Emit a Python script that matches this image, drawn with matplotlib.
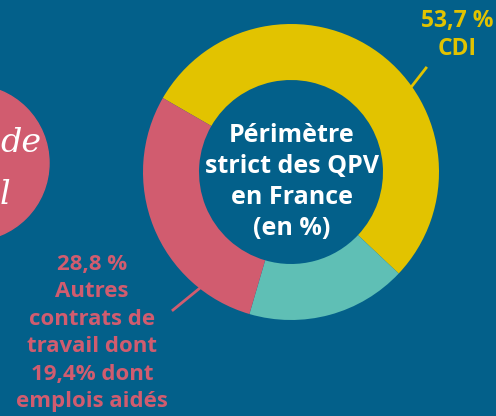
import matplotlib
matplotlib.use("Agg")
import matplotlib.pyplot as plt
from matplotlib.patches import Circle

# data
labels = ["CDI", "Autre", "Autres contrats"]
values = [53.7, 17.5, 28.8]
colors = ["#e2c300", "#5fbfb5", "#d15c6f"]

bg = "#03608a"
W, H = 496, 416

fig = plt.figure(figsize=(W / 100, H / 100), dpi=100)
fig.patch.set_facecolor(bg)
ax = fig.add_axes([0, 0, 1, 1])

def py(y):
    # pixel row (from top) to data y
    return H - y

# decorative pink disc on the left, cut by the edge
ax.add_patch(Circle((-29, py(163)), 78, color="#d15c6f", zorder=1))
ax.text(0, py(143), "de", color="white", fontsize=24, family="DejaVu Serif",
        style="italic", ha="left", va="center", zorder=2)
ax.text(0, py(195), "l", color="white", fontsize=24, family="DejaVu Serif",
        style="italic", ha="left", va="center", zorder=2)

# donut
ax.pie(values, colors=colors, startangle=150, counterclock=False,
       center=(291, py(172)), radius=148, frame=True,
       wedgeprops=dict(width=56, linewidth=0))
ax.set_xlim(0, W)
ax.set_ylim(0, H)
ax.set_aspect("equal")
ax.axis("off")

font = "Open Sans"
ax.text(292, py(182), "Périmètre\nstrict des QPV\nen France\n(en %)", color="white",
        fontsize=18, fontweight="bold", family=font, ha="center", va="center",
        linespacing=1.3)

# yellow label + leader
ax.plot([412, 426], [py(86), py(68)], color=colors[0], lw=2)
ax.text(457, py(35), "53,7 %\nCDI", color=colors[0], fontsize=16.5,
        fontweight="bold", family=font, ha="center", va="center", linespacing=1.25)

# pink label + leader
ax.plot([173, 200], [py(310), py(288)], color=colors[2], lw=2)
ax.text(92, py(333), "28,8 %\nAutres\ncontrats de\ntravail dont\n19,4% dont\nemplois aidés",
        color=colors[2], fontsize=16, fontweight="bold", family=font,
        ha="center", va="center", linespacing=1.4)

fig.savefig("out.png", dpi=100, facecolor=bg)
